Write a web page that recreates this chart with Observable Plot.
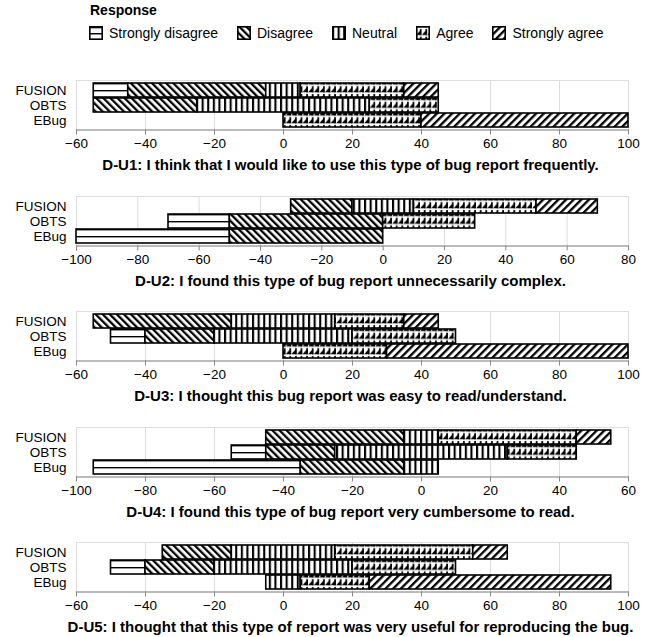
<!DOCTYPE html>
<html>
<head>
<meta charset="utf-8">
<script src="https://cdn.jsdelivr.net/npm/d3@7"></script>
<script src="https://cdn.jsdelivr.net/npm/@observablehq/plot@0.6"></script>
<style>
  html, body { margin: 0; padding: 0; background: #fff; width: 645px; height: 637px; overflow: hidden; position: relative; }
  body { font-family: "Liberation Sans", Arial, Helvetica, sans-serif; color: #000; }
  #legend-title { position: absolute; left: 90px; top: 1px; font-weight: bold; font-size: 14px; line-height: 18px; }
  #legend { position: absolute; left: 89px; top: 25px; display: flex; align-items: center; font-size: 14px; line-height: 16px; }
  .item { display: flex; align-items: center; margin-right: 19px; }
  .item svg { margin-right: 6px; }
  .panel { position: absolute; left: 0; }
</style>
</head>
<body>
<svg width="0" height="0" style="position:absolute">
  <defs>
    <pattern id="pat0" patternUnits="objectBoundingBox" x="0" y="0" width="1" height="0.5" patternContentUnits="userSpaceOnUse">
      <rect x="-1" y="-5" width="2000" height="2000" fill="#fff"/>
      <rect x="-1" y="-1.4" width="2000" height="2.8" fill="#000"/>
    </pattern>
    <pattern id="pat1" patternUnits="userSpaceOnUse" width="5" height="5" patternTransform="rotate(-45)">
      <rect width="5" height="5" fill="#fff"/>
      <rect x="0" y="0" width="2.3" height="5" fill="#000"/>
    </pattern>
    <pattern id="pat2" patternUnits="userSpaceOnUse" width="5.6" height="10">
      <rect width="5.6" height="10" fill="#fff"/>
      <rect x="0" y="0" width="2.1" height="10" fill="#000"/>
    </pattern>
    <pattern id="pat3" patternUnits="userSpaceOnUse" x="0" y="2" width="5.6" height="7.75">
      <rect width="5.6" height="7.75" fill="#fff"/>
      <path d="M0.2,7.1 L5.4,7.1 L5.4,0.9 Z" fill="#000"/>
      <rect x="3.9" y="0.9" width="1.5" height="6.2" fill="#000"/>
    </pattern>
    <pattern id="pat4" patternUnits="userSpaceOnUse" width="5.4" height="5.4" patternTransform="rotate(45)">
      <rect width="5.4" height="5.4" fill="#fff"/>
      <rect x="0" y="0" width="2.3" height="5.4" fill="#000"/>
    </pattern>
  </defs>
</svg>
<div id="legend-title">Response</div>
<div id="legend"></div>
<div id="charts"></div>
<script>
// ---- data ----
const responses = ["Strongly disagree", "Disagree", "Neutral", "Agree", "Strongly agree"];
const systems = ["FUSION", "OBTS", "EBug"];
const titles = [
  "D-U1: I think that I would like to use this type of bug report frequently.",
  "D-U2: I found this type of bug report unnecessarily complex.",
  "D-U3: I thought this bug report was easy to read/understand.",
  "D-U4: I found this type of bug report very cumbersome to read.",
  "D-U5: I thought that this type of report was very useful for reproducing the bug."
];
// percentages per system (FUSION, OBTS, EBug): [SD, D, N, A, SA]
const du1 = [[10, 40, 10, 30, 10], [0, 30, 50, 20, 0], [0, 0, 0, 40, 60]];
const du2 = [[0, 20, 20, 40, 20], [20, 50, 0, 30, 0], [50, 50, 0, 0, 0]];
const du3 = [[0, 40, 30, 20, 10], [10, 20, 40, 30, 0], [0, 0, 0, 30, 70]];
const du4 = [[0, 40, 10, 40, 10], [10, 20, 50, 20, 0], [60, 30, 10, 0, 0]];
const du5 = [[0, 20, 30, 40, 10], [10, 20, 40, 30, 0], [0, 0, 10, 20, 70]];
const questions = [du1, du2, du3, du4, du5];

const patterns = responses.map((r, i) => `url(#pat${i})`);
const FONT = "'Liberation Sans', Arial, Helvetica, sans-serif";

// ---- legend ----
const legend = document.getElementById("legend");
responses.forEach((r, i) => {
  const item = document.createElement("div");
  item.className = "item";
  item.innerHTML = `<svg width="14" height="14"><rect x="0.8" y="0.8" width="12.4" height="12.4" fill="${patterns[i]}" stroke="#000" stroke-width="1.6"/></svg><span>${r}</span>`;
  legend.appendChild(item);
});

// ---- panels ----
const charts = document.getElementById("charts");
questions.forEach((q, qi) => {
  const rows = [];
  q.forEach((v, si) => {
    let start = -(v[0] + v[1] + v[2] / 2);
    v.forEach((val, k) => {
      if (val > 0) rows.push({system: systems[si], k, x1: start, x2: start + val});
      start += val;
    });
  });
  const lo = d3.min(rows, d => d.x1), hi = d3.max(rows, d => d.x2);
  const domain = d3.nice(lo, hi, 10);

  const chart = Plot.plot({
    width: 645,
    height: 116,
    marginLeft: 76,
    marginRight: 17,
    marginTop: 20,
    marginBottom: 46.5,
    style: {fontFamily: FONT, fontSize: "13.5px", color: "#000", background: "transparent", overflow: "visible"},
    x: {domain, label: null},
    y: {domain: systems, paddingInner: 1 / 15.5, paddingOuter: 2 / 15.5, label: null},
    marks: [
      Plot.gridX({stroke: "#ddd", strokeOpacity: 1, strokeWidth: 1}),
      Plot.frame({stroke: "#ddd"}),
      ...responses.map((r, k) =>
        Plot.barX(rows.filter(d => d.k === k), {
          x1: "x1", x2: "x2", y: "system",
          fill: patterns[k], stroke: "#000", strokeWidth: 1.6
        })
      ),
      Plot.frame({anchor: "bottom", stroke: "#888"}),
      Plot.axisX({tickSize: 5, tickPadding: 3, stroke: "#888", fill: "#000", fontSize: 13.5, label: null}),
      Plot.axisY({tickSize: 0, tickPadding: 10, fill: "#000", fontSize: 13.5, label: null}),
      Plot.text([titles[qi]], {frameAnchor: "bottom", dx: -2, dy: 35, lineAnchor: "middle", fontWeight: "bold", fontSize: 15, fill: "#000"})
    ]
  });
  chart.classList.add("panel");
  chart.style.top = (60 + 115.5 * qi) + "px";
  charts.appendChild(chart);
});
</script>
</body>
</html>
